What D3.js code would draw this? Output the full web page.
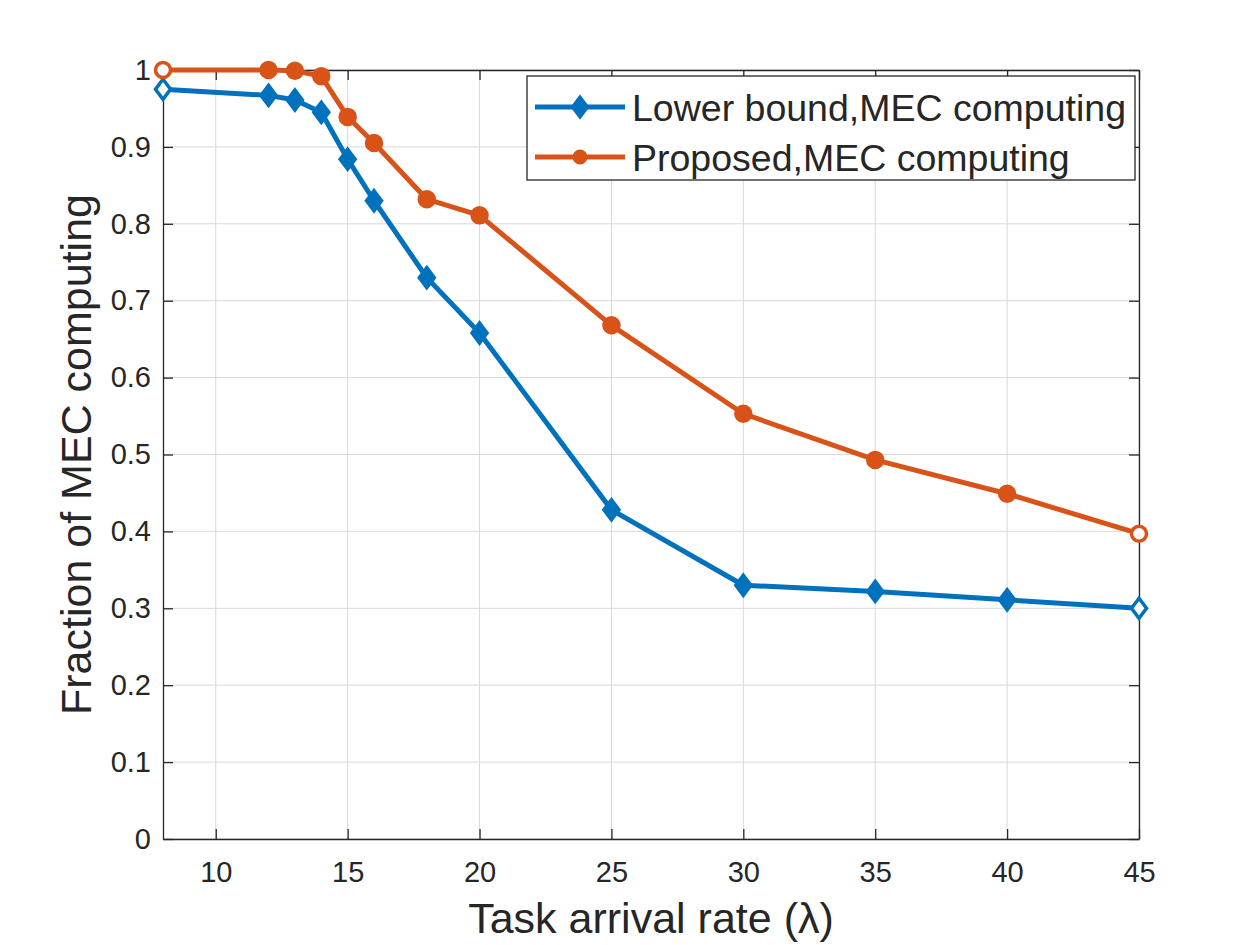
<!DOCTYPE html>
<html>
<head>
<meta charset="utf-8">
<script src="https://cdn.jsdelivr.net/npm/d3@7"></script>
<style>
  body { margin: 0; background: #fff; }
  text { font-family: "Liberation Sans", Arial, sans-serif; fill: #262626; }
</style>
</head>
<body>
<div id="chart"></div>
<script>
// task arrival rate values
let rates = [8, 12, 13, 14, 15, 16, 18, 20, 25, 30, 35, 40, 45];
let lowerBound = [0.975, 0.967, 0.961, 0.945, 0.884, 0.830, 0.730, 0.658, 0.428, 0.330, 0.322, 0.311, 0.300];
let proposed = [1.0, 1.0, 0.999, 0.992, 0.939, 0.905, 0.832, 0.811, 0.668, 0.553, 0.493, 0.449, 0.397];
let xTicks = [10, 15, 20, 25, 30, 35, 40, 45];
let yTicks = [0, 0.1, 0.2, 0.3, 0.4, 0.5, 0.6, 0.7, 0.8, 0.9, 1];
let seriesNames = ['Lower bound,MEC computing', 'Proposed,MEC computing'];

let margin = { top: 70, right: 121, bottom: 106, left: 163 },
  width = 1260 - margin.left - margin.right,
  height = 945 - margin.top - margin.bottom;

let svg = d3.select('#chart').append('svg')
  .attr('width', 1260)
  .attr('height', 945)
  .append('g')
  .attr('transform', 'translate(' + margin.left + ',' + margin.top + ')');

let x = d3.scaleLinear().domain([8, 45]).range([0, width]);
let y = d3.scaleLinear().domain([0, 1]).range([height, 0]);

// grid
svg.append('g').selectAll('line')
  .data(xTicks).enter().append('line')
  .attr('x1', d => x(d)).attr('x2', d => x(d))
  .attr('y1', 0).attr('y2', height)
  .attr('stroke', '#d9d9d9').attr('stroke-width', 1);

svg.append('g').selectAll('line')
  .data(yTicks).enter().append('line')
  .attr('x1', 0).attr('x2', width)
  .attr('y1', d => y(d)).attr('y2', d => y(d))
  .attr('stroke', '#d9d9d9').attr('stroke-width', 1);

// axes with inward ticks
let tickLen = 10;
let xAxis = svg.append('g')
  .attr('transform', 'translate(0,' + height + ')')
  .call(d3.axisBottom(x).tickValues(xTicks).tickSize(-tickLen).tickPadding(22).tickSizeOuter(0));
let yAxis = svg.append('g')
  .call(d3.axisLeft(y).tickValues(yTicks).tickSize(-tickLen).tickPadding(12).tickSizeOuter(0)
    .tickFormat(d => d3.format('')(+d.toFixed(1))));
let xTop = svg.append('g')
  .call(d3.axisTop(x).tickValues(xTicks).tickSize(-tickLen).tickFormat('').tickSizeOuter(0));
let yRight = svg.append('g')
  .attr('transform', 'translate(' + width + ',0)')
  .call(d3.axisRight(y).tickValues(yTicks).tickSize(-tickLen).tickFormat('').tickSizeOuter(0));

[xAxis, yAxis, xTop, yRight].forEach(a => {
  a.selectAll('path.domain').attr('stroke', '#262626').attr('stroke-width', 1.3);
  a.selectAll('.tick line').attr('stroke', '#262626').attr('stroke-width', 1.3);
  a.selectAll('.tick text').style('font-size', '29px').style('font-family', '"Liberation Sans", Arial, sans-serif').attr('fill', '#262626');
});

let blue = '#0072BD', orange = '#D95319';
let line = d3.line().x(d => x(d[0])).y(d => y(d[1]));
let diamond = (cx, cy, r) => `M${cx},${cy - r}L${cx + r * 0.75},${cy}L${cx},${cy + r}L${cx - r * 0.75},${cy}Z`;
let edge = d => d === x.domain()[0] || d === x.domain()[1];

function drawSeries(vals, color, shape) {
  let pts = rates.map((r, i) => [r, vals[i]]);
  svg.append('path')
    .datum(pts)
    .attr('d', line)
    .attr('fill', 'none')
    .attr('stroke', color)
    .attr('stroke-width', 5)
    .attr('stroke-linejoin', 'round');

  let g = svg.append('g');
  pts.forEach(p => {
    let cx = x(p[0]), cy = y(p[1]);
    let fill = edge(p[0]) ? '#fff' : color;
    if (shape === 'diamond') {
      g.append('path').attr('d', diamond(cx, cy, 10))
        .attr('fill', fill).attr('stroke', color).attr('stroke-width', 3.5).attr('stroke-linejoin', 'miter');
    } else {
      g.append('circle').attr('cx', cx).attr('cy', cy).attr('r', 7.5)
        .attr('fill', fill).attr('stroke', color).attr('stroke-width', 3.5);
    }
  });
}

drawSeries(lowerBound, blue, 'diamond');
drawSeries(proposed, orange, 'circle');

// legend
let lg = svg.append('g').attr('transform', 'translate(' + (527 - margin.left) + ',' + (76 - margin.top) + ')');
lg.append('rect').attr('width', 608).attr('height', 104)
  .attr('fill', '#fff').attr('stroke', '#262626').attr('stroke-width', 1.3);
[[seriesNames[0], blue, 'diamond', 31], [seriesNames[1], orange, 'circle', 81]].forEach(e => {
  lg.append('line').attr('x1', 8).attr('x2', 98).attr('y1', e[3]).attr('y2', e[3])
    .attr('stroke', e[1]).attr('stroke-width', 5);
  if (e[2] === 'diamond') {
    lg.append('path').attr('d', diamond(53, e[3], 11)).attr('fill', e[1]).attr('stroke', e[1]).attr('stroke-width', 2);
  } else {
    lg.append('circle').attr('cx', 53).attr('cy', e[3]).attr('r', 6.5).attr('fill', e[1]).attr('stroke', e[1]).attr('stroke-width', 2);
  }
  lg.append('text').attr('x', 105).attr('y', e[3]).attr('dy', '0.36em')
    .style('font-size', '37.5px').attr('fill', '#000').text(e[0]);
});

// axis labels
svg.append('text')
  .attr('x', width / 2).attr('y', height + 94)
  .style('text-anchor', 'middle').style('font-size', '43px')
  .text('Task arrival rate (λ)');

svg.append('text')
  .attr('transform', 'translate(' + (-72) + ',' + (height / 2) + ') rotate(-90)')
  .style('text-anchor', 'middle').style('font-size', '43px')
  .text('Fraction of MEC computing');
</script>
</body>
</html>
